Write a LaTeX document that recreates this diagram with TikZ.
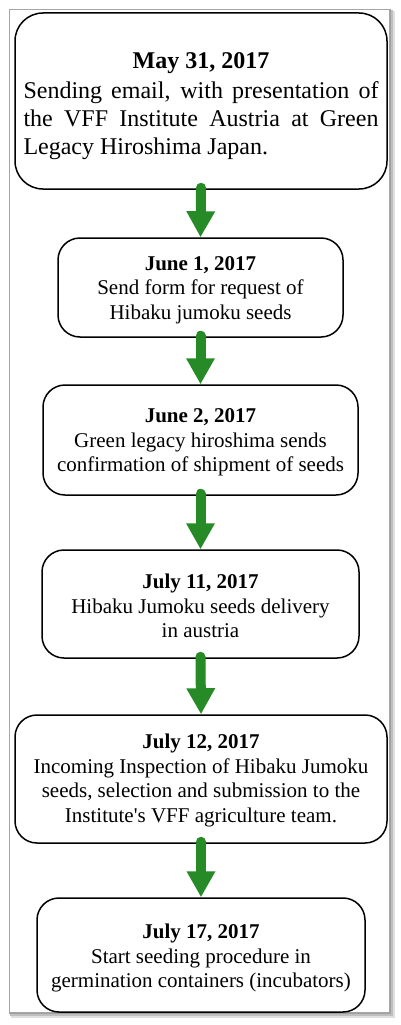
\documentclass[tikz,border=0pt]{standalone}
\usepackage{fontspec}
\setmainfont{Liberation Serif}
\usetikzlibrary{arrows.meta}
\definecolor{arrowgreen}{RGB}{38,138,38}
\newcommand{\topstrut}[1]{\rule{0pt}{#1}}
\tikzset{
  stepbox/.style={draw=black, line width=1.5pt, rounded corners=22pt, fill=white,
    inner sep=0pt, align=center, font=\fontsize{21}{24.5}\selectfont},
  bigbox/.style={stepbox, rounded corners=28pt, align=justify, text width=355pt,
    font=\fontsize{24}{28}\selectfont},
  flowarrow/.style={draw=arrowgreen, line width=10pt, line cap=round,
    -{Triangle[width=27pt,length=26pt]}},
}
\begin{document}
\begin{tikzpicture}[x=1pt,y=-1pt]
\useasboundingbox (0,0) rectangle (400,1025);
% frame with shadow
\fill[gray!25] (11,11) rectangle (395,1018);
\fill[gray!50] (10,10) rectangle (393,1016);
\fill[gray!75] (9,9) rectangle (391,1014);
\draw[fill=white, draw=gray!70, line width=0.8pt] (9,9) rectangle (389,1012);

\node[bigbox, minimum width=372pt, minimum height=176pt] (b1) at (201,101)
  {{\centering\bfseries\topstrut{26pt}May 31, 2017\par}\vspace{2pt}Sending email, with presentation of\linebreak
   the VFF Institute Austria at Green\linebreak Legacy Hiroshima Japan.};
\node[stepbox, minimum width=285pt, minimum height=99pt] (b2) at (200.5,287.5)
  {\topstrut{19pt}\textbf{June 1, 2017}\\Send form for request of\\Hibaku jumoku seeds};
\node[stepbox, minimum width=315pt, minimum height=110pt] (b3) at (200.5,440)
  {\topstrut{19pt}\textbf{June 2, 2017}\\Green legacy hiroshima sends\\confirmation of shipment of seeds};
\node[stepbox, minimum width=317pt, minimum height=108pt] (b4) at (200.5,604)
  {\topstrut{19pt}\textbf{July 11, 2017}\\Hibaku Jumoku seeds delivery\\in austria};
\node[stepbox, minimum width=372pt, minimum height=128pt] (b5) at (201,779)
  {\topstrut{18pt}\textbf{July 12, 2017}\\Incoming Inspection of Hibaku Jumoku\\seeds, selection and submission to the\\Institute\textquotesingle s VFF agriculture team.};
\node[stepbox, minimum width=328pt, minimum height=114pt] (b6) at (201,955)
  {\topstrut{21pt}\textbf{July 17, 2017}\\Start seeding procedure in\\germination containers (incubators)};

\foreach \a/\b in {b1/b2,b2/b3,b3/b4,b4/b5,b5/b6}{
  \draw[flowarrow] ([yshift=2pt]\a.south) -- (\b.north);
}
\end{tikzpicture}
\end{document}
